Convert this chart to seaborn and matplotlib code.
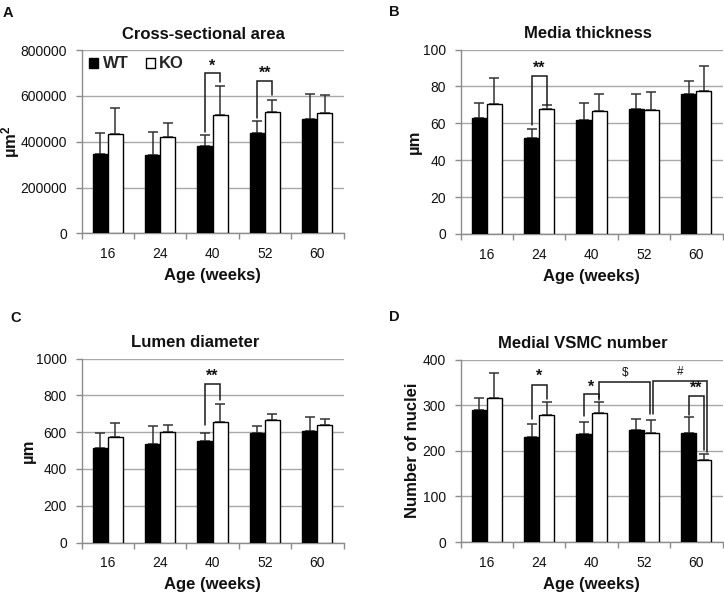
import numpy as np
import pandas as pd
import matplotlib
matplotlib.use("Agg")
import matplotlib.pyplot as plt
import seaborn as sns
from matplotlib.patches import Patch
from matplotlib.ticker import FixedLocator

# ---------------- data ----------------
ages = ["16", "24", "40", "52", "60"]
genotypes = ["WT", "KO"]

csa_wt = [347000, 342000, 380000, 438000, 498000]
csa_wt_sd = [89000, 100000, 49000, 52000, 109000]
csa_ko = [434000, 422000, 517000, 531000, 524000]
csa_ko_sd = [111000, 58000, 127000, 51000, 79000]

media_wt = [63.0, 51.8, 61.9, 67.9, 76.0]
media_wt_sd = [7.9, 5.1, 9.0, 8.1, 7.0]
media_ko = [70.6, 67.9, 66.8, 67.0, 77.3]
media_ko_sd = [13.9, 2.1, 9.2, 9.9, 14.0]

lumen_wt = [516, 534, 551, 594, 607]
lumen_wt_sd = [80, 98, 45, 38, 76]
lumen_ko = [571, 598, 656, 668, 639]
lumen_ko_sd = [78, 41, 96, 31, 33]

vsmc_wt = [289, 230, 237, 245, 239]
vsmc_wt_sd = [26, 29, 25, 25, 34]
vsmc_ko = [315, 279, 282, 238, 180]
vsmc_ko_sd = [56, 27, 25, 30, 13]

# significance brackets: (cat1, hue1, dx1, cat2, hue2, dx2, y_top, y_bot1, y_bot2, label, label_y, label_size, weight)
csa_sig = [(2, 0, 0, 2, 1, 0, 700000, 444000, 660000, "*", 730000, 11.5, "bold"),
           (3, 0, 0, 3, 1, 0, 666000, 505000, 603000, "**", 698000, 11.5, "bold")]
media_sig = [(1, 0, 0, 1, 1, 0, 85.7, 59.0, 69.7, "**", 89.8, 11.5, "bold")]
lumen_sig = [(2, 0, 0, 2, 1, 0, 864, 636, 774, "**", 903, 11.5, "bold")]
vsmc_sig = [(1, 0, 0, 1, 1, 0, 345, 270, 314, "*", 364, 11.5, "bold"),
            (2, 0, 0, 2, 1, 0, 325, 276, 316, "*", 339, 11.5, "bold"),
            (2, 1, 0, 3, 1, -0.02, 351, 311, 280, "$", 371, 8.5, "normal"),
            (3, 1, 0.03, 4, 1, 0.06, 353, 280, 197, "#", 373, 8.5, "normal"),
            (4, 0, 0, 4, 1, 0, 320, 278, 201, "**", 337, 11.5, "bold")]

panels = [
    dict(letter="A", title="Cross-sectional area", ylabel="µm$^2$", wt=csa_wt, wt_sd=csa_wt_sd,
         ko=csa_ko, ko_sd=csa_ko_sd, ymax=800000, step=200000, sig=csa_sig,
         rect=[81.5, 50, 262, 183.5], title_x=0.464, ylab_x=-0.229, legend=True),
    dict(letter="B", title="Media thickness", ylabel="µm", wt=media_wt, wt_sd=media_wt_sd,
         ko=media_ko, ko_sd=media_ko_sd, ymax=100, step=20, sig=media_sig,
         rect=[460.5, 49.5, 262, 184.5], title_x=0.485, ylab_x=-0.148, legend=False),
    dict(letter="C", title="Lumen diameter", ylabel="µm", wt=lumen_wt, wt_sd=lumen_wt_sd,
         ko=lumen_ko, ko_sd=lumen_ko_sd, ymax=1000, step=200, sig=lumen_sig,
         rect=[81.5, 358.5, 262, 184], title_x=0.433, ylab_x=-0.175, legend=False),
    dict(letter="D", title="Medial VSMC number", ylabel="Number of nuclei", wt=vsmc_wt, wt_sd=vsmc_wt_sd,
         ko=vsmc_ko, ko_sd=vsmc_ko_sd, ymax=400, step=100, sig=vsmc_sig,
         rect=[460.5, 359.5, 262, 182.5], title_x=0.466, ylab_x=-0.153, legend=False),
]
letter_pos = {"A": (3, 6), "B": (389, 5), "C": (10, 311), "D": (389, 310)}

# ---------------- style ----------------
sns.set_theme(style="white")
plt.rcParams["font.family"] = ["Liberation Sans", "DejaVu Sans"]
plt.rcParams["mathtext.fontset"] = "custom"
plt.rcParams["mathtext.rm"] = "Liberation Sans:bold"
plt.rcParams["mathtext.it"] = "Liberation Sans:bold"
plt.rcParams["mathtext.bf"] = "Liberation Sans:bold"

W, H = 724, 595
fig = plt.figure(figsize=(W / 100, H / 100), dpi=100)
fig.patch.set_facecolor("white")

grid_col = "#a8a8a8"
spine_col = "#8c8c8c"
err_col = "#333333"
txt_col = "#111111"

for p in panels:
    x0, y0, w, h = p["rect"]
    ax = fig.add_axes([x0 / W, 1 - (y0 + h) / H, w / W, h / H])
    df = pd.DataFrame({
        "age": ages * 2,
        "genotype": ["WT"] * 5 + ["KO"] * 5,
        "value": list(p["wt"]) + list(p["ko"]),
    })
    sns.barplot(data=df, x="age", y="value", hue="genotype", order=ages, hue_order=genotypes,
                palette={"WT": "black", "KO": "white"}, edgecolor="black", linewidth=1.0,
                errorbar=None, width=0.58, legend=False, ax=ax, zorder=3)
    bars = sorted(ax.patches, key=lambda r: r.get_x())
    centers = np.array([b.get_x() + b.get_width() / 2 for b in bars]).reshape(5, 2)
    heights = np.array([b.get_height() for b in bars]).reshape(5, 2)
    sds = np.array([p["wt_sd"], p["ko_sd"]]).T
    for hi in range(2):
        ax.errorbar(centers[:, hi], heights[:, hi], yerr=[np.zeros(5), sds[:, hi]],
                    fmt="none", ecolor=err_col, elinewidth=1.1, capsize=3.8, capthick=1.1, zorder=2)

    # significance brackets
    for (c1, h1, d1, c2, h2, d2, yt, yb1, yb2, lab, ly, fs, wt) in p["sig"]:
        xa = centers[c1, h1] + d1
        xb = centers[c2, h2] + d2
        ax.plot([xa, xa, xb, xb], [yb1, yt, yt, yb2], color="#1a1a1a", lw=1.1,
                solid_joinstyle="miter", zorder=4)
        ax.text((xa + xb) / 2, ly, lab, ha="center", va="center", fontsize=fs,
                fontweight=wt, color=txt_col, zorder=5)

    ax.set_ylim(0, p["ymax"])
    ax.set_xlim(-0.5, 4.5)
    ticks = np.arange(0, p["ymax"] + p["step"] / 2, p["step"])
    ax.set_yticks(ticks)
    ax.set_yticklabels([f"{int(v)}" for v in ticks])
    ax.yaxis.grid(True, color=grid_col, lw=1.0, zorder=0)
    ax.set_axisbelow(True)
    for s in ["top", "right"]:
        ax.spines[s].set_visible(False)
    for s in ["left", "bottom"]:
        ax.spines[s].set_color(spine_col)
        ax.spines[s].set_linewidth(1.0)
    ax.tick_params(axis="y", which="major", length=4.5, width=1, color=spine_col,
                   labelsize=10, labelcolor=txt_col, pad=6, left=True)
    ax.tick_params(axis="x", which="major", length=0, labelsize=10, labelcolor=txt_col, pad=10)
    ax.xaxis.set_minor_locator(FixedLocator(np.arange(-0.5, 5, 1.0)))
    ax.tick_params(axis="x", which="minor", length=4, width=1, color=spine_col, bottom=True)

    ax.set_xlabel("Age (weeks)", fontsize=12, fontweight="bold", color=txt_col, labelpad=5)
    ax.set_ylabel(p["ylabel"], fontsize=12, fontweight="bold", color=txt_col)
    ax.yaxis.set_label_coords(p["ylab_x"], 0.5)
    ax.set_title(p["title"], fontsize=12, fontweight="bold", color=txt_col, x=p["title_x"], pad=8)

    if p["legend"]:
        handles = [Patch(facecolor="black", edgecolor="black", label="WT"),
                   Patch(facecolor="white", edgecolor="black", label="KO")]
        ax.legend(handles=handles, loc="center left", bbox_to_anchor=(0.030, 1 - 14 / h), ncol=2,
                  frameon=False, handlelength=0.54, handleheight=0.54, handletextpad=0.26,
                  columnspacing=1.04, borderpad=0, borderaxespad=0,
                  prop={"weight": "bold", "size": 12})

    lx, ly = letter_pos[p["letter"]]
    fig.text(lx / W, 1 - ly / H, p["letter"], ha="left", va="top", fontsize=10.5,
             fontweight="bold", color=txt_col)

fig.savefig("out.png", dpi=100, facecolor="white")
